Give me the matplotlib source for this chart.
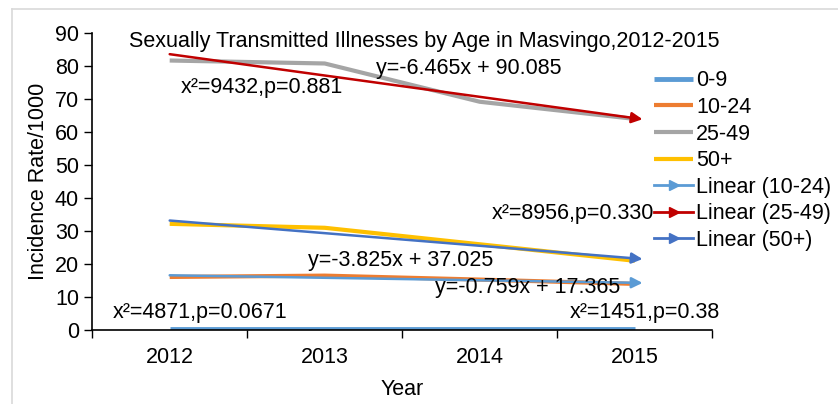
import matplotlib.pyplot as plt
import numpy as np
from matplotlib.lines import Line2D

plt.rcParams['font.family'] = ['Liberation Sans', 'DejaVu Sans']

years = ['2012', '2013', '2014', '2015']
age_0_9 = [0.3, 0.3, 0.3, 0.3]
age_10_24 = [16.1, 16.5, 15.3, 14.0]
age_25_49 = [81.7, 80.8, 69.2, 64.0]
age_50_plus = [32.2, 31.0, 26.0, 21.0]

# trend equations printed on the chart (x = 1..4)
trend_10_24 = (-0.759, 17.365)
trend_25_49 = (-6.465, 90.085)
trend_50_plus = (-3.825, 37.025)

fs = 15.5

fig = plt.figure(figsize=(8.38, 4.04), dpi=100)
ax = fig.add_axes([0.11, 0.183, 0.74, 0.735])

x = np.arange(len(years))
ax.plot(x, age_0_9, color='#5B9BD5', lw=3.5, label='0-9', solid_capstyle='butt')
ax.plot(x, age_10_24, color='#ED7D31', lw=3, label='10-24', solid_capstyle='butt')
ax.plot(x, age_25_49, color='#A5A5A5', lw=3, label='25-49', solid_capstyle='butt')
ax.plot(x, age_50_plus, color='#FFC000', lw=3, label='50+', solid_capstyle='butt')

trends = [(trend_10_24, '#5B9BD5', 'Linear (10-24)'),
          (trend_25_49, '#C00000', 'Linear (25-49)'),
          (trend_50_plus, '#4472C4', 'Linear (50+)')]
for (m, b), col, lab in trends:
    y0 = m * 1 + b
    y1 = m * 4 + b
    ax.annotate('', xy=(x[-1] + 0.05, y1 + m * 0.05), xytext=(x[0], y0),
                arrowprops=dict(arrowstyle='-|>', color=col, lw=1.8,
                                mutation_scale=16, shrinkA=0, shrinkB=0))

ax.set_xlim(-0.5, 3.5)
ax.set_ylim(0, 90)
ax.set_xticks(x)
ax.set_xticklabels(years)
ax.set_xticks(np.arange(-0.5, 4, 1), minor=True)
ax.tick_params(axis='x', which='major', length=0, labelsize=fs, pad=12)
ax.tick_params(axis='x', which='minor', length=6, width=1, direction='out')
ax.tick_params(axis='y', labelsize=fs, length=6, width=1, direction='out')
ax.set_yticks(range(0, 91, 10))
for s in ['top', 'right']:
    ax.spines[s].set_visible(False)
ax.spines['left'].set_linewidth(1.2)
ax.spines['bottom'].set_linewidth(1.2)

ax.set_ylabel('Incidence Rate/1000', fontsize=fs, labelpad=4)
ax.set_xlabel('Year', fontsize=fs, labelpad=8)
ax.set_title('Sexually Transmitted Illnesses by Age in Masvingo,2012-2015',
             fontsize=fs, x=0.535, y=0.925)

ax.text(0.07, 73.6, 'x²=9432,p=0.881', fontsize=fs, va='center')
ax.text(1.33, 79.4, 'y=-6.465x + 90.085', fontsize=fs, va='center')
ax.text(2.08, 35.2, 'x²=8956,p=0.330', fontsize=fs, va='center')
ax.text(0.89, 21.2, 'y=-3.825x + 37.025', fontsize=fs, va='center')
ax.text(1.71, 13.0, 'y=-0.759x + 17.365', fontsize=fs, va='center')
ax.text(-0.365, 5.2, 'x²=4871,p=0.0671', fontsize=fs, va='center')
ax.text(2.58, 5.2, 'x²=1451,p=0.38', fontsize=fs, va='center')

handles, labels = ax.get_legend_handles_labels()
for (m, b), col, lab in trends:
    handles.append(Line2D([0], [0], color=col, lw=2, marker='>',
                          markevery=[1], markersize=7))
    labels.append(lab)
leg = ax.legend(handles, labels, loc='upper left', bbox_to_anchor=(0.875, 0.94),
                frameon=False, fontsize=fs, handlelength=1.8,
                handletextpad=0.15, labelspacing=0.26)
for h in leg.legend_handles[4:]:
    h.set_markevery([1])

fig.add_artist(Line2D([12 / 838, 1], [1 - 9 / 404, 1 - 9 / 404],
                      color='#d9d9d9', lw=1.2, transform=fig.transFigure))
fig.add_artist(Line2D([12 / 838, 12 / 838], [0, 1 - 9 / 404],
                      color='#d9d9d9', lw=1.2, transform=fig.transFigure))

fig.savefig('out.png', dpi=100)
